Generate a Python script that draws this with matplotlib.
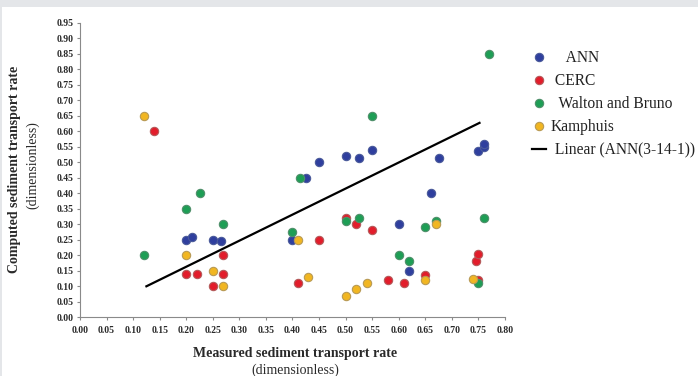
import matplotlib.pyplot as plt
from matplotlib.patches import Rectangle

# ANN
ann_x = [0.20, 0.21, 0.25, 0.265, 0.40, 0.425, 0.45, 0.50, 0.525, 0.55, 0.60, 0.62, 0.66, 0.675, 0.75, 0.76, 0.76]
ann_y = [0.25, 0.26, 0.25, 0.245, 0.25, 0.45, 0.50, 0.52, 0.515, 0.54, 0.30, 0.15, 0.40, 0.515, 0.535, 0.55, 0.56]
# CERC
cerc_x = [0.14, 0.20, 0.22, 0.25, 0.27, 0.27, 0.41, 0.45, 0.50, 0.52, 0.55, 0.58, 0.61, 0.65, 0.745, 0.75, 0.75]
cerc_y = [0.60, 0.14, 0.14, 0.10, 0.14, 0.20, 0.11, 0.25, 0.32, 0.30, 0.28, 0.12, 0.11, 0.135, 0.18, 0.205, 0.12]
# Walton and Bruno
wb_x = [0.12, 0.20, 0.225, 0.27, 0.40, 0.415, 0.50, 0.525, 0.55, 0.60, 0.62, 0.65, 0.67, 0.75, 0.76, 0.77]
wb_y = [0.20, 0.35, 0.40, 0.30, 0.275, 0.45, 0.31, 0.32, 0.65, 0.20, 0.18, 0.29, 0.31, 0.11, 0.32, 0.85]
# Kamphuis
kam_x = [0.12, 0.20, 0.25, 0.27, 0.41, 0.43, 0.50, 0.52, 0.54, 0.65, 0.67, 0.74]
kam_y = [0.65, 0.20, 0.15, 0.10, 0.25, 0.13, 0.07, 0.09, 0.11, 0.12, 0.30, 0.125]
# Linear (ANN(3-14-1)) trend line
lin_x = [0.125, 0.752]
lin_y = [0.10, 0.627]

x_ticks = [i * 0.05 for i in range(17)]
y_ticks = [i * 0.05 for i in range(20)]

fig = plt.figure(figsize=(6.98, 3.76), dpi=100)
fig.patch.set_facecolor('white')
# grey frame of the page
fig.patches.append(Rectangle((0, 1 - 7 / 376), 1, 7 / 376, transform=fig.transFigure,
                             facecolor='#e4e6e9', edgecolor='none'))
fig.patches.append(Rectangle((0, 0), 2 / 698, 1, transform=fig.transFigure,
                             facecolor='#e4e6e9', edgecolor='none'))

ax = fig.add_axes([0.1146, 0.1561, 0.6089, 0.7835])

mk = dict(marker='o', linestyle='none', markersize=6, markeredgewidth=0.8)
ax.plot(ann_x, ann_y, color='#2f3f9e', markeredgecolor='#4a5a9a', label='    ANN', **mk)
ax.plot(cerc_x, cerc_y, color='#e21d2b', markeredgecolor='#b45a5a', label=' CERC', **mk)
ax.plot(wb_x, wb_y, color='#1e9e55', markeredgecolor='#4f8f6a', label='  Walton and Bruno', **mk)
ax.plot(kam_x, kam_y, color='#f1b622', markeredgecolor='#b89a55', label='Kamphuis', **mk)
ax.plot(lin_x, lin_y, color='black', linewidth=1.6, label=' Linear (ANN(3-14-1))')

ax.set_xlim(0, 0.8)
ax.set_ylim(0, 0.95)
ax.set_xticks(x_ticks)
ax.set_xticklabels(['%.2f' % v for v in x_ticks])
ax.set_yticks(y_ticks)
ax.set_yticklabels(['%.2f' % v for v in y_ticks])
for s in ['top', 'right']:
    ax.spines[s].set_visible(False)
for s in ['left', 'bottom']:
    ax.spines[s].set_color('#8a8a8a')
    ax.spines[s].set_linewidth(0.8)
ax.tick_params(length=2.5, width=0.8, color='#8a8a8a', pad=2)
ax.tick_params(axis='x', pad=4)
for lab in ax.get_xticklabels() + ax.get_yticklabels():
    lab.set_fontfamily('Liberation Serif')
    lab.set_fontweight('bold')
    lab.set_fontsize(7)
    lab.set_color('#2a2a2a')

fig.text(15 / 698, 1 - 169 / 376, 'Computed sediment transport rate', rotation=90,
         ha='center', va='center', family='Liberation Serif', weight='bold', fontsize=10, color='#2a2a2a')
fig.text(33 / 698, 1 - 165 / 376, '(dimensionless)', rotation=90,
         ha='center', va='center', family='Liberation Serif', fontsize=10, color='#2a2a2a')
fig.text(295 / 698, 1 - 353 / 376, 'Measured sediment transport rate',
         ha='center', va='center', family='Liberation Serif', weight='bold', fontsize=10, color='#2a2a2a')
fig.text(295 / 698, 1 - 370 / 376, '(dimensionless)',
         ha='center', va='center', family='Liberation Serif', fontsize=10, color='#2a2a2a')

leg = ax.legend(loc='upper left', bbox_to_anchor=(532 / 698, 1 - 50 / 376), bbox_transform=fig.transFigure,
                frameon=False, prop={'family': 'Liberation Serif', 'size': 11.2},
                handlelength=0.9, handletextpad=0.3, labelspacing=0.45, borderpad=0, borderaxespad=0)
for t in leg.get_texts():
    t.set_color('#222222')

fig.savefig('out.png', dpi=100)
